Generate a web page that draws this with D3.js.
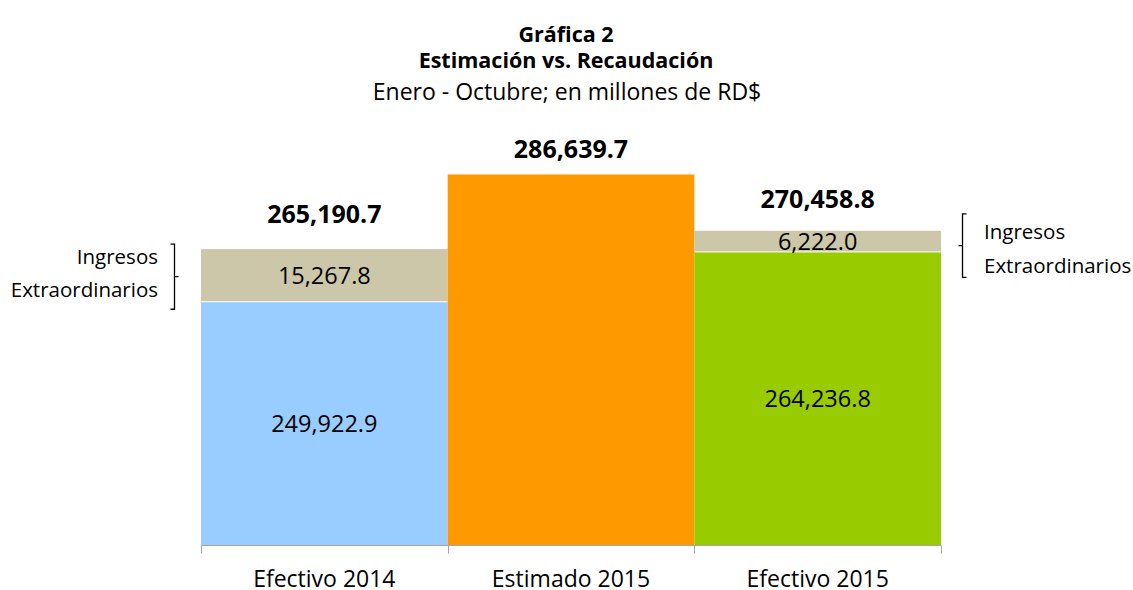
<!DOCTYPE html>
<html>
<head>
<meta charset="utf-8">
<script src="https://cdn.jsdelivr.net/npm/d3@7"></script>
<style>
  body { margin: 0; background: #fff; }
  text { font-family: "Open Sans", sans-serif; fill: #000; }
</style>
</head>
<body>
<script>
var categories = ["Efectivo 2014", "Estimado 2015", "Efectivo 2015"];
var baseValues = [249922.9, 286639.7, 264236.8];
var extraValues = [15267.8, 0, 6222.0];
var totals = [265190.7, 286639.7, 270458.8];
var baseColors = ["#99CCFF", "#FF9900", "#99CC00"];
var extraColor = "#CDC7A9";
var titleLines = ["Gráfica 2", "Estimación vs. Recaudación"];
var subtitle = "Enero - Octubre; en millones de RD$";
var noteLines = ["Ingresos", "Extraordinarios"];

var width = 1133, height = 590;
var fmt = d3.format(",.1f");
// gap between a bar top and the centre of its total label
var totalGap = [35, 25, 31];

var svg = d3.select("body").append("svg")
    .attr("width", width)
    .attr("height", height);

var x = d3.scaleBand()
    .domain(categories)
    .range([201, 941])
    .paddingInner(0)
    .paddingOuter(0);

var y = d3.scaleLinear()
    .domain([180000, 300000])
    .range([545.5, 128]);

// titles
svg.selectAll(".title")
    .data(titleLines)
    .enter().append("text")
    .attr("class", "title")
    .attr("x", 566)
    .attr("y", function(d, i) { return 42 + i * 26; })
    .attr("text-anchor", "middle")
    .style("font-weight", "bold")
    .style("font-size", "21.5px")
    .text(function(d) { return d; });

svg.append("text")
    .attr("x", 567)
    .attr("y", 100)
    .attr("text-anchor", "middle")
    .style("font-size", "23px")
    .text(subtitle);

var bars = svg.selectAll(".bar")
    .data(categories)
    .enter().append("g")
    .attr("class", "bar");

// base segment
bars.append("rect")
    .attr("x", function(d) { return x(d); })
    .attr("width", x.bandwidth())
    .attr("y", function(d, i) { return y(baseValues[i]); })
    .attr("height", function(d, i) { return y(180000) - y(baseValues[i]); })
    .attr("fill", function(d, i) { return baseColors[i]; });

var withExtra = bars.filter(function(d, i) { return extraValues[i] > 0; });

// extraordinary segment
withExtra.append("rect")
    .attr("x", function(d) { return x(d); })
    .attr("width", x.bandwidth())
    .attr("y", function(d) { var i = categories.indexOf(d); return y(baseValues[i] + extraValues[i]); })
    .attr("height", function(d) { var i = categories.indexOf(d); return y(baseValues[i]) - y(baseValues[i] + extraValues[i]) - 1; })
    .attr("fill", extraColor);

// segment labels
withExtra.append("text")
    .attr("x", function(d) { return x(d) + x.bandwidth() / 2; })
    .attr("y", function(d) { var i = categories.indexOf(d); return (y(baseValues[i]) + y(180000)) / 2 + 8.5; })
    .attr("text-anchor", "middle")
    .style("font-size", "23.5px")
    .text(function(d) { return fmt(baseValues[categories.indexOf(d)]); });

withExtra.append("text")
    .attr("x", function(d) { return x(d) + x.bandwidth() / 2; })
    .attr("y", function(d) { var i = categories.indexOf(d); return (y(baseValues[i]) + y(totals[i])) / 2 + 8.5; })
    .attr("text-anchor", "middle")
    .style("font-size", "23.5px")
    .text(function(d) { return fmt(extraValues[categories.indexOf(d)]); });

// totals
bars.append("text")
    .attr("x", function(d) { return x(d) + x.bandwidth() / 2; })
    .attr("y", function(d, i) { return y(totals[i]) - totalGap[i] + 8.5; })
    .attr("text-anchor", "middle")
    .style("font-weight", "bold")
    .style("font-size", "25px")
    .text(function(d, i) { return fmt(totals[i]); });

// axis
var axis = svg.append("g")
    .attr("transform", "translate(0," + y(180000) + ")");
axis.append("line")
    .attr("x1", 201).attr("x2", 941)
    .attr("stroke", "#A6A6A6");
var tickX = categories.map(function(d) { return x(d); }).concat([x.range()[1]]);
axis.selectAll(".tick")
    .data(tickX)
    .enter().append("line")
    .attr("x1", function(d) { return Math.round(d) + 0.5; })
    .attr("x2", function(d) { return Math.round(d) + 0.5; })
    .attr("y1", 0).attr("y2", 8)
    .attr("stroke", "#A6A6A6");
axis.selectAll(".cat")
    .data(categories)
    .enter().append("text")
    .attr("x", function(d) { return x(d) + x.bandwidth() / 2; })
    .attr("y", 41)
    .attr("text-anchor", "middle")
    .style("font-size", "23px")
    .text(function(d) { return d; });

// brackets for "Ingresos Extraordinarios"
function bracket(xLine, y0, y1, dir) {
  var mid = (y0 + y1) / 2;
  var p = d3.path();
  p.moveTo(xLine - 4 * dir, y0);
  p.lineTo(xLine, y0);
  p.lineTo(xLine, y1);
  p.lineTo(xLine - 4 * dir, y1);
  p.moveTo(xLine, mid);
  p.lineTo(xLine + 4 * dir, mid);
  svg.append("path")
    .attr("d", p.toString())
    .attr("fill", "none")
    .attr("stroke", "#000")
    .attr("stroke-width", 1.3);
}

var left = 0, right = 2;
bracket(174.5, y(totals[left]) - 5, y(baseValues[left]) + 7, 1);
bracket(962.5, y(totals[right]) - 17, y(baseValues[right]) + 25, -1);

svg.selectAll(".noteL")
    .data(noteLines)
    .enter().append("text")
    .attr("x", 158)
    .attr("y", function(d, i) { return 264 + i * 33; })
    .attr("text-anchor", "end")
    .style("font-size", "20.5px")
    .text(function(d) { return d; });

svg.selectAll(".noteR")
    .data(noteLines)
    .enter().append("text")
    .attr("x", 984)
    .attr("y", function(d, i) { return 239 + i * 34; })
    .style("font-size", "20.5px")
    .text(function(d) { return d; });
</script>
</body>
</html>
